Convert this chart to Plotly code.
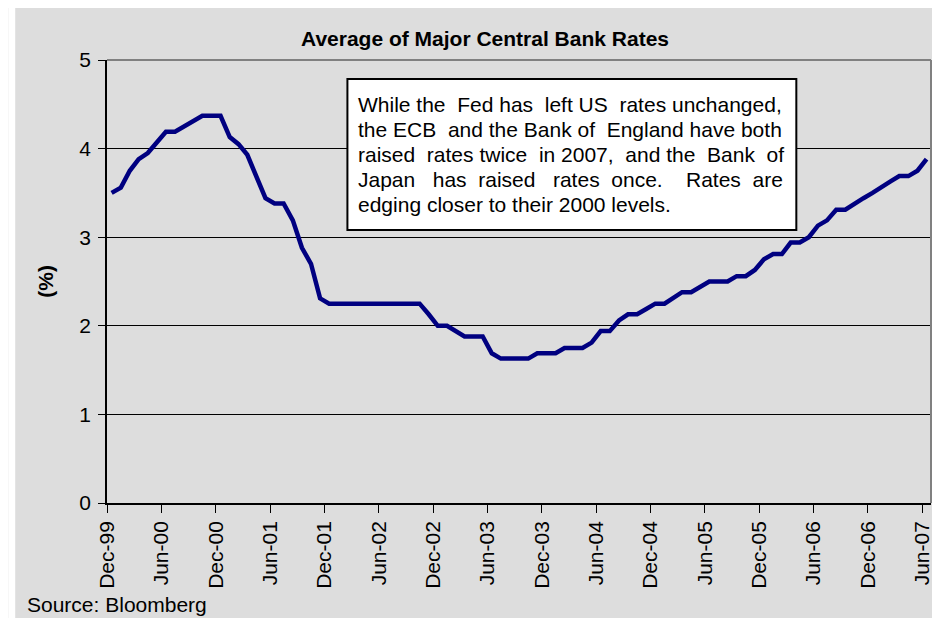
import pandas as pd
import plotly.graph_objects as go

# ---------------- data ----------------
start_month = "1999-12-01"
n_months = 91  # Dec-99 .. Jun-07 (monthly)
months = pd.date_range(start_month, periods=n_months, freq="MS")

avg_rate = [
    3.50, 3.56, 3.75, 3.88, 3.95, 4.07, 4.19, 4.19, 4.25, 4.31,   # Dec-99 .. Sep-00
    4.37, 4.37, 4.37, 4.13, 4.05, 3.93, 3.69, 3.44, 3.38, 3.38,   # Oct-00 .. Jul-01
    3.19, 2.88, 2.70, 2.31, 2.25, 2.25, 2.25, 2.25, 2.25, 2.25,   # Aug-01 .. May-02
    2.25, 2.25, 2.25, 2.25, 2.25, 2.13, 2.00, 2.00, 1.94, 1.88,   # Jun-02 .. Mar-03
    1.88, 1.88, 1.69, 1.63, 1.63, 1.63, 1.63, 1.69, 1.69, 1.69,   # Apr-03 .. Jan-04
    1.75, 1.75, 1.75, 1.81, 1.94, 1.94, 2.06, 2.13, 2.13, 2.19,   # Feb-04 .. Nov-04
    2.25, 2.25, 2.31, 2.38, 2.38, 2.44, 2.50, 2.50, 2.50, 2.56,   # Dec-04 .. Sep-05
    2.56, 2.63, 2.75, 2.81, 2.81, 2.94, 2.94, 3.00, 3.13, 3.19,   # Oct-05 .. Jul-06
    3.31, 3.31, 3.38, 3.44, 3.50, 3.56, 3.63, 3.69, 3.69, 3.75,   # Aug-06 .. May-07
    3.88,                                                         # Jun-07
]

y_ticks = [0, 1, 2, 3, 4, 5]

title_text = "Average of Major Central Bank Rates"
y_title = "(%)"
source_text = "Source: Bloomberg"

# annotation lines (justified look: extra non-breaking spaces per gap)
note_lines = [
    ("While the Fed has left US rates unchanged,", [0, 1, 0, 1, 0, 1, 0]),
    ("the ECB and the Bank of England have both", [0, 1, 0, 0, 0, 1, 0, 0]),
    ("raised rates twice in 2007, and the Bank of", [1, 0, 1, 0, 1, 0, 1, 1]),
    ("Japan has raised rates once. Rates are", [2, 1, 2, 1, 3, 1]),
    ("edging closer to their 2000 levels.", None),
]

FONT = "Liberation Sans, Arial, sans-serif"
PANEL = "#dddddd"

# ---------------- figure ----------------
fig = go.Figure()
fig.add_trace(go.Scatter(
    x=months, y=avg_rate, mode="lines",
    xperiod="M1", xperiodalignment="middle",
    line=dict(color="#000080", width=4.5),
    hoverinfo="skip", showlegend=False,
))

OFF = 8  # page body margin
W, H = 932, 610
L, R, T, B = 99, 7, 52, 115
pw, ph = W - L - R, H - T - B


def px(x):  # page pixel -> paper x
    return (x - OFF - L) / pw


def py(y):  # page pixel -> paper y
    return (H - B - (y - OFF)) / ph


shapes = [
    # white strip at left of grey panel
    dict(type="rect", xref="paper", yref="paper", x0=px(OFF), x1=px(15), y0=py(OFF + H), y1=py(OFF),
         fillcolor="white", line=dict(width=0), layer="above"),
    # plot frame top/right in grey
    dict(type="line", xref="paper", yref="paper", x0=0, x1=1, y0=1, y1=1,
         line=dict(color="#808080", width=2), layer="above"),
    dict(type="line", xref="paper", yref="paper", x0=1, x1=1, y0=0, y1=1,
         line=dict(color="#808080", width=2), layer="above"),
    # note box
    dict(type="rect", xref="paper", yref="paper", x0=px(348), x1=px(798), y0=py(230), y1=py(79),
         fillcolor="white", line=dict(color="black", width=2), layer="above"),
]

annotations = [
    dict(text="<b>%s</b>" % title_text, xref="paper", yref="paper", x=px(486), y=py(38),
         xanchor="center", yanchor="middle", showarrow=False,
         font=dict(family=FONT, size=21, color="black")),
    dict(text="<b>%s</b>" % y_title, xref="paper", yref="paper", x=px(45), y=0.5,
         xanchor="center", yanchor="middle", textangle=-90, showarrow=False,
         font=dict(family=FONT, size=21, color="black")),
    dict(text=source_text, xref="paper", yref="paper", x=px(25), y=py(604),
         xanchor="left", yanchor="middle", showarrow=False,
         font=dict(family=FONT, size=21, color="black")),
]

line_centers = [104.5, 129.5, 154.5, 179.5, 204.5]
for (txt, extra), yc in zip(note_lines, line_centers):
    words = txt.split(" ")
    if extra is None:
        s = "\u00a0".join(words)
    else:
        s = words[0]
        for w, e in zip(words[1:], extra):
            s += "\u00a0" * (1 + e) + w
    annotations.append(dict(text=s, xref="paper", yref="paper", x=px(358), y=py(yc),
                            xanchor="left", yanchor="middle", showarrow=False, borderpad=0,
                            font=dict(family=FONT, size=21, color="black")))

fig.update_layout(
    width=W, height=H,
    margin=dict(l=L, r=R, t=T, b=B, pad=0),
    paper_bgcolor=PANEL, plot_bgcolor=PANEL,
    font=dict(family=FONT, size=21, color="black"),
    shapes=shapes, annotations=annotations,
    showlegend=False,
)

fig.update_xaxes(
    type="date", range=["1999-12-01", "2007-07-01"],
    tick0="1999-12-01", dtick="M6", tickformat="%b-%y", tickangle=-90,
    ticks="outside", ticklen=8, tickwidth=1, tickcolor="black",
    showgrid=False, zeroline=False,
    showline=True, linecolor="black", linewidth=1.5,
    tickfont=dict(family=FONT, size=21, color="black"),
)
fig.update_yaxes(
    range=[0, 5], tickvals=y_ticks,
    ticks="outside", ticklen=7, tickwidth=1, tickcolor="black",
    ticklabelstandoff=3,
    showgrid=True, gridcolor="black", gridwidth=1,
    zeroline=False, showline=True, linecolor="black", linewidth=1.5,
    tickfont=dict(family=FONT, size=21, color="black"),
)

fig.write_html("out.html")
